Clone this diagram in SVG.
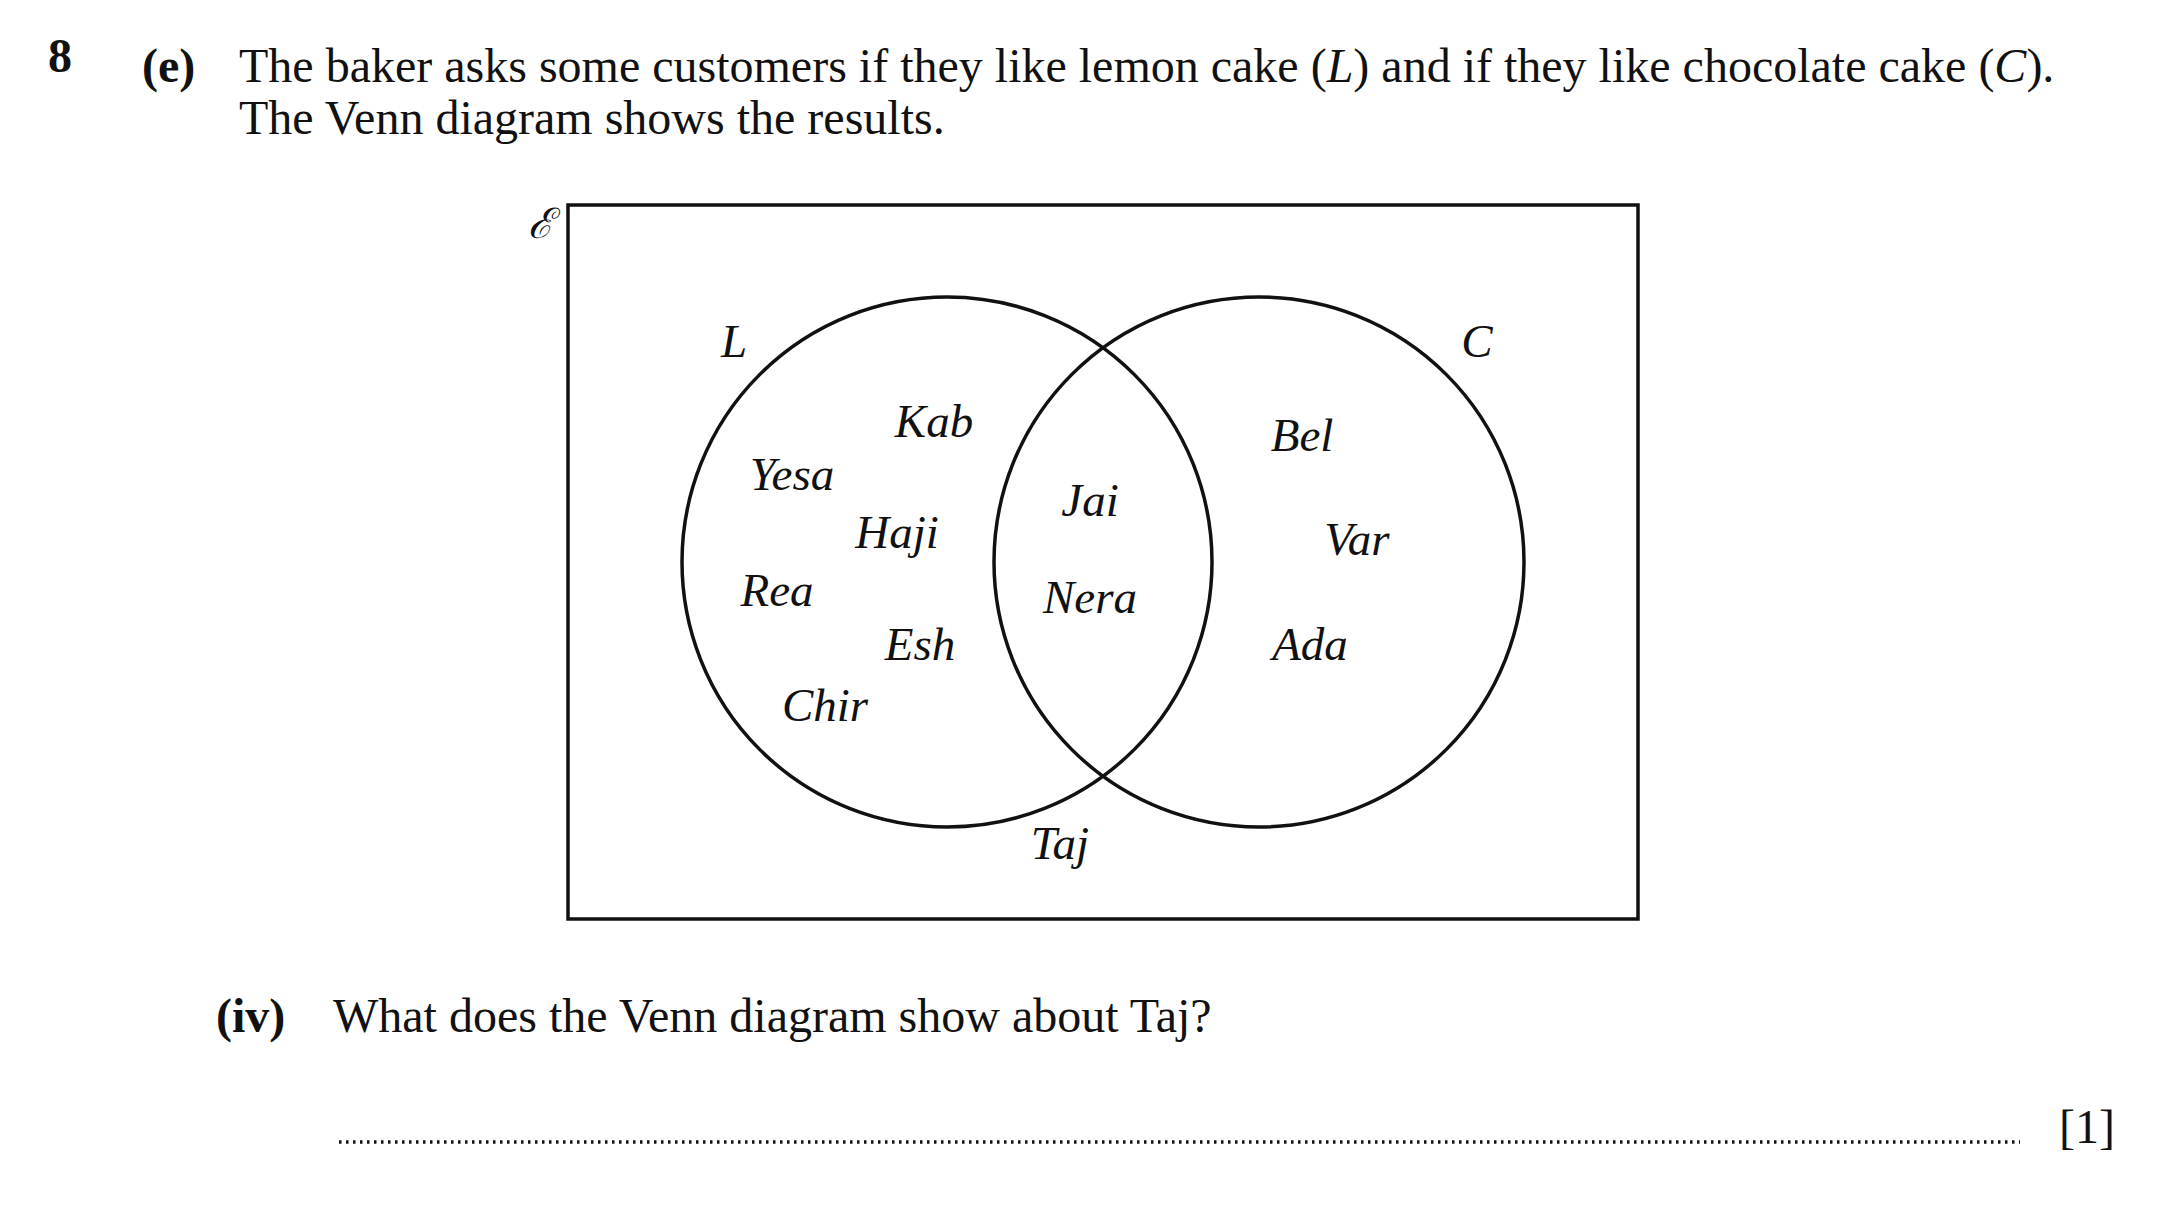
<svg xmlns="http://www.w3.org/2000/svg" width="2167" height="1205" viewBox="0 0 2167 1205">
<style>
text{font-family:"Liberation Serif","Times New Roman",serif;fill:#111}
.t{font-size:48px}
.b{font-weight:bold}
.n{font-size:47px;font-style:italic;text-anchor:middle}
.s{fill:none;stroke:#111;stroke-width:3.5}
</style>
<rect width="2167" height="1205" fill="#fff"/>
<text class="t b" x="48" y="72">8</text>
<text class="t b" x="142" y="82">(e)</text>
<text class="t" x="239" y="82">The baker asks some customers if they like lemon cake (<tspan font-style="italic">L</tspan>) and if they like chocolate cake (<tspan font-style="italic">C</tspan>).</text>
<text class="t" x="239" y="134">The Venn diagram shows the results.</text>
<g id="universe"><rect class="s" x="568" y="205" width="1070" height="714"/><text class="n" x="540" y="238" style="font-family:'DejaVu Serif',serif;font-size:42px">ℰ</text></g>
<g id="L"><circle class="s" cx="947" cy="562" r="265"/><text class="n" x="734" y="357">L</text></g>
<g id="C"><circle class="s" cx="1259" cy="562" r="265"/><text class="n" x="1477" y="357">C</text></g>
<g id="names">
<text class="n" x="934" y="437">Kab</text>
<text class="n" x="792" y="490">Yesa</text>
<text class="n" x="897" y="548">Haji</text>
<text class="n" x="777" y="606">Rea</text>
<text class="n" x="920" y="660">Esh</text>
<text class="n" x="825" y="721">Chir</text>
<text class="n" x="1090" y="516">Jai</text>
<text class="n" x="1090" y="613">Nera</text>
<text class="n" x="1302" y="451">Bel</text>
<text class="n" x="1357" y="555">Var</text>
<text class="n" x="1310" y="660">Ada</text>
<text class="n" x="1060" y="859">Taj</text>
</g>
<text class="t b" x="216" y="1032">(iv)</text>
<text class="t" x="333" y="1032">What does the Venn diagram show about Taj?</text>
<line x1="339" y1="1142" x2="2020" y2="1142" stroke="#111" stroke-width="3.5" stroke-dasharray="2.5 4.5"/>
<text class="t" x="2059" y="1143">[1]</text>
</svg>
